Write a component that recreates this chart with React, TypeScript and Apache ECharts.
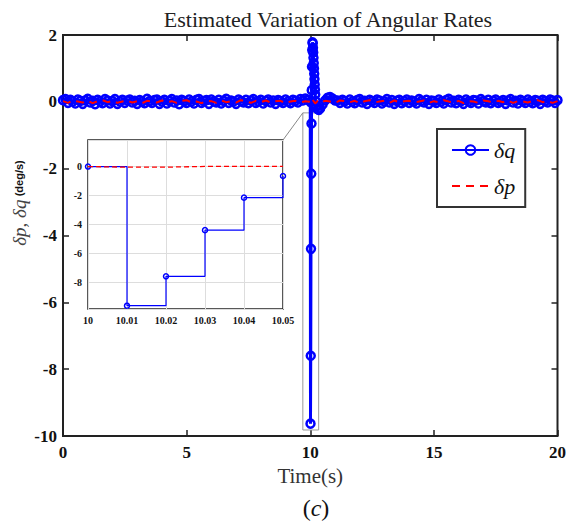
import React, { useEffect, useRef } from 'react';
import * as echarts from 'echarts';

// ---------- data ----------
const titleText = 'Estimated Variation of Angular Rates';
const xName = 'Time(s)';
const yNameSymbols = 'δp, δq';
const yNameUnit = '(deg/s)';
const legendNames = ['δq', 'δp'];
const mainXRange = [0, 20];
const mainYRange = [-10, 2];
const mainXInterval = 5;
const mainYInterval = 2;

// δq, noisy band before the event (t = 0 .. 9.9, step 0.1)
const qPreStart = 0;
const qStep = 0.1;
const qPre = [
  0.05, 0.08, -0.03, 0.06, 0.01, -0.05, 0.07, 0.03, -0.06, 0.04,
  0.09, -0.02, 0.03, -0.07, 0.06, 0.01, -0.04, 0.08, 0.04, -0.05,
  0.02, 0.08, -0.06, 0.01, 0.06, -0.03, 0.04, 0.07, -0.02, 0.03,
  -0.06, 0.05, 0.01, -0.04, 0.09, 0.02, -0.03, 0.05, 0.07, -0.06,
  0.01, 0.06, -0.05, 0.03, 0.08, -0.02, 0.04, -0.07, 0.06, 0.02,
  -0.03, 0.07, 0.01, -0.05, 0.06, 0.08, -0.03, 0.02, 0.05, -0.06,
  0.07, 0.01, -0.02, 0.06, -0.05, 0.03, 0.09, -0.03, 0.04, 0.01,
  -0.06, 0.07, 0.02, -0.02, 0.06, -0.04, 0.04, 0.08, -0.03, 0.01,
  0.06, -0.05, 0.03, 0.07, -0.02, 0.04, -0.06, 0.05, 0.02, -0.03,
  0.07, 0.01, -0.04, 0.06, 0.03, -0.02, 0.08, 0.04, 0.1, 0.06,
];
// δq around the event (time, value)
const qEventT = [
  10.0, 10.01, 10.02, 10.03, 10.04, 10.05, 10.06, 10.07, 10.08, 10.09,
  10.1, 10.11, 10.12, 10.13, 10.14, 10.15, 10.16, 10.17, 10.18, 10.19,
  10.2, 10.22, 10.25, 10.3, 10.35, 10.4, 10.5, 10.6, 10.7, 10.8, 10.9, 11.0,
];
const qEventV = [
  0.0, -9.63, -7.6, -4.4, -2.15, -0.65, 0.35, 1.05, 1.55, 1.78,
  1.75, 1.62, 1.48, 1.32, 1.16, 1.0, 0.84, 0.68, 0.52, 0.37,
  0.22, 0.02, -0.12, -0.22, -0.24, -0.2, -0.08, 0.04, 0.12, 0.14, 0.1, 0.04,
];
// δq after the event (t = 11.1 .. 20.0, step 0.1)
const qPostStart = 11.1;
const qPost = [
  0.04, -0.03, 0.06, 0.02, -0.05, 0.07, 0.01, -0.04, 0.05, 0.08,
  -0.02, 0.03, -0.06, 0.06, 0.02, -0.03, 0.07, 0.04, -0.05, 0.01,
  0.08, -0.02, 0.05, -0.06, 0.03, 0.06, -0.04, 0.02, 0.07, -0.03,
  0.04, 0.01, -0.05, 0.08, 0.03, -0.02, 0.06, -0.06, 0.04, 0.02,
  -0.03, 0.07, 0.01, -0.05, 0.05, 0.09, -0.02, 0.03, -0.04, 0.06,
  0.02, -0.06, 0.07, 0.01, -0.03, 0.05, 0.04, -0.05, 0.08, 0.02,
  -0.02, 0.06, -0.04, 0.03, 0.07, -0.03, 0.01, 0.05, -0.06, 0.04,
  0.08, -0.02, 0.03, -0.05, 0.06, 0.02, -0.03, 0.07, 0.01, -0.04,
  0.05, 0.03, -0.06, 0.06, 0.02, -0.02, 0.07, 0.04, -0.03, 0.05,
];

// δp (t = 0 .. 9.8, step 0.2)
const pPreStart = 0;
const pStep = 0.2;
const pPre = [
  0.02, -0.03, 0.04, 0.01, -0.02, 0.03, -0.04, 0.02, 0.05, -0.01,
  0.03, -0.03, 0.01, 0.04, -0.02, 0.02, -0.04, 0.03, 0.01, -0.02,
  0.04, -0.01, 0.02, -0.03, 0.03, 0.05, -0.02, 0.01, -0.04, 0.03,
  0.02, -0.03, 0.04, -0.01, 0.02, -0.02, 0.05, 0.01, -0.03, 0.03,
  -0.01, 0.04, -0.02, 0.02, 0.03, -0.04, 0.01, 0.03, -0.02, 0.02,
];
const pEventT = [10.0, 10.01, 10.02, 10.03, 10.04, 10.05, 10.1, 10.2, 10.3];
const pEventV = [0.0, -0.04, -0.04, 0.01, 0.01, 0.01, 0.06, -0.05, 0.03];
// δp (t = 10.4 .. 20.0, step 0.2)
const pPostStart = 10.4;
const pPost = [
  -0.02, 0.03, 0.01, -0.03, 0.04, 0.02, -0.01, 0.03, -0.04, 0.02,
  0.05, -0.02, 0.01, 0.03, -0.03, 0.04, -0.01, 0.02, 0.03, -0.02,
  0.01, 0.04, -0.03, 0.02, -0.01, 0.05, 0.01, -0.02, 0.03, -0.04,
  0.02, 0.01, -0.03, 0.04, 0.02, -0.02, 0.03, -0.01, 0.04, -0.03,
  0.02, 0.01, -0.02, 0.03, 0.05, -0.01, 0.02, -0.03, 0.02,
];

// inset (zoom on t = 10 .. 10.05)
const insetXRange = [10, 10.05];
const insetYRange = [-9.86, 1.84];
const insetXInterval = 0.01;
const insetQT = [10.0, 10.01, 10.02, 10.03, 10.04, 10.05];
const insetQV = [0.0, -9.63, -7.6, -4.4, -2.15, -0.65];
const insetPT = [10.0, 10.01, 10.02, 10.03, 10.04, 10.05];
const insetPV = [0.0, -0.04, -0.04, 0.01, 0.01, 0.01];

// zoom rectangle in the main axes
const zoomBoxX = [9.7, 10.34];
const zoomBoxY = [-9.82, -0.33];

// ---------- helpers ----------
const r2 = (v: number) => Math.round(v * 1000) / 1000;
const gridSeries = (start: number, step: number, vals: number[]) =>
  vals.map((v, i) => [r2(start + i * step), v]);
const pairSeries = (ts: number[], vs: number[]) => ts.map((t, i) => [t, vs[i]]);

const BLUE = '#0000ff';
const RED = '#ff0000';
const FRAME = '#222222';
const SERIF = 'Liberation Serif';
const SANS = 'Liberation Sans';

export default function App() {
  const ref = useRef<HTMLDivElement>(null);

  useEffect(() => {
    document.body.style.margin = '0';
    if (!ref.current) return;
    const chart = echarts.init(ref.current, undefined, { renderer: 'svg' });

    const qMain = [
      ...gridSeries(qPreStart, qStep, qPre),
      ...pairSeries(qEventT, qEventV),
      ...gridSeries(qPostStart, qStep, qPost),
    ];
    const pMain = [
      ...gridSeries(pPreStart, pStep, pPre),
      ...pairSeries(pEventT, pEventV),
      ...gridSeries(pPostStart, pStep, pPost),
    ];

    const mainTickLabel = {
      fontFamily: SERIF,
      fontWeight: 'bold' as const,
      fontSize: 17,
      color: '#111',
    };
    const insetTickLabel = {
      fontFamily: SERIF,
      fontWeight: 'bold' as const,
      fontSize: 10,
      color: '#111',
    };

    const option: any = {
      animation: false,
      backgroundColor: '#ffffff',
      title: {
        text: titleText,
        left: 323,
        top: 3,
        textAlign: 'center',
        textStyle: { fontFamily: SERIF, fontWeight: 'normal', fontSize: 22, color: '#222' },
      },
      legend: {
        data: [
          { name: legendNames[0] },
          { name: legendNames[1], itemStyle: { opacity: 0 } },
        ],
        orient: 'vertical',
        left: 437,
        top: 129,
        padding: [10, 10, 10, 14],
        itemWidth: 37,
        itemHeight: 12,
        itemGap: 14,
        borderColor: '#333',
        borderWidth: 2,
        backgroundColor: '#fff',
        textStyle: { fontFamily: SERIF, fontStyle: 'italic', fontSize: 22, color: '#111' },
      },
      grid: [
        {
          left: 63,
          top: 35,
          width: 497,
          height: 401,
          show: true,
          borderColor: FRAME,
          borderWidth: 2,
          backgroundColor: '#fff',
        },
        {
          left: 88,
          top: 140,
          width: 195,
          height: 169,
          show: true,
          borderColor: FRAME,
          borderWidth: 1.5,
          backgroundColor: '#fff',
          z: 5,
        },
      ],
      xAxis: [
        {
          gridIndex: 0,
          type: 'value',
          min: mainXRange[0],
          max: mainXRange[1],
          interval: mainXInterval,
          name: xName,
          nameLocation: 'middle',
          nameGap: 24,
          nameTextStyle: { fontFamily: SERIF, fontSize: 21, color: '#333' },
          axisLine: { show: false, onZero: false },
          axisTick: { inside: true, length: 6, lineStyle: { color: FRAME, width: 1.5 } },
          axisLabel: { ...mainTickLabel, margin: 8 },
          splitLine: { show: false },
        },
        {
          gridIndex: 0,
          type: 'value',
          position: 'top',
          min: mainXRange[0],
          max: mainXRange[1],
          interval: mainXInterval,
          axisLine: { show: false, onZero: false },
          axisTick: { inside: true, length: 6, lineStyle: { color: FRAME, width: 1.5 } },
          axisLabel: { show: false },
          splitLine: { show: false },
        },
        {
          gridIndex: 1,
          type: 'value',
          min: insetXRange[0],
          max: insetXRange[1],
          interval: insetXInterval,
          axisLine: { show: false, onZero: false },
          axisTick: { show: false },
          axisLabel: {
            ...insetTickLabel,
            margin: 6,
            formatter: (v: number) => String(Number(v.toFixed(2))),
          },
          splitLine: { show: true, lineStyle: { color: '#dddddd', width: 1 } },
          z: 6,
        },
      ],
      yAxis: [
        {
          gridIndex: 0,
          type: 'value',
          min: mainYRange[0],
          max: mainYRange[1],
          interval: mainYInterval,
          axisLine: { show: false, onZero: false },
          axisTick: { inside: true, length: 6, lineStyle: { color: FRAME, width: 1.5 } },
          axisLabel: { ...mainTickLabel, margin: 6 },
          splitLine: { show: false },
        },
        {
          gridIndex: 0,
          type: 'value',
          position: 'right',
          min: mainYRange[0],
          max: mainYRange[1],
          interval: mainYInterval,
          axisLine: { show: false, onZero: false },
          axisTick: { inside: true, length: 6, lineStyle: { color: FRAME, width: 1.5 } },
          axisLabel: { show: false },
          splitLine: { show: false },
        },
        {
          gridIndex: 1,
          type: 'value',
          min: insetYRange[0],
          max: insetYRange[1],
          splitNumber: 6,
          axisLine: { show: false, onZero: false },
          axisTick: { show: false },
          axisLabel: {
            ...insetTickLabel,
            margin: 6,
            showMinLabel: false,
            showMaxLabel: false,
            formatter: (v: number) => {
              const r = Math.round(v);
              return Math.abs(v - r) < 1e-6 && r % 2 === 0 ? String(r) : '';
            },
          },
          splitLine: { show: true, lineStyle: { color: '#dddddd', width: 1 } },
          z: 6,
        },
      ],
      series: [
        {
          name: legendNames[0],
          type: 'line',
          xAxisIndex: 0,
          yAxisIndex: 0,
          data: qMain,
          symbol: 'circle',
          symbolSize: 8,
          showAllSymbol: true,
          color: BLUE,
          itemStyle: { color: 'rgba(255,255,255,0)', borderColor: BLUE, borderWidth: 2.5 },
          lineStyle: { color: BLUE, width: 3 },
          z: 3,
          markArea: {
            silent: true,
            itemStyle: { color: 'rgba(0,0,0,0)', borderColor: '#999999', borderWidth: 1 },
            data: [[{ coord: [zoomBoxX[0], zoomBoxY[1]] }, { coord: [zoomBoxX[1], zoomBoxY[0]] }]],
          },
        },
        {
          name: legendNames[1],
          type: 'line',
          xAxisIndex: 0,
          yAxisIndex: 0,
          data: pMain,
          symbol: 'none',
          color: RED,
          lineStyle: { color: RED, width: 2, type: [8, 6] },
          z: 4,
        },
        {
          name: legendNames[0],
          type: 'line',
          xAxisIndex: 2,
          yAxisIndex: 2,
          data: pairSeries(insetQT, insetQV),
          step: 'end',
          symbol: 'circle',
          symbolSize: 5,
          color: BLUE,
          itemStyle: { color: 'rgba(255,255,255,0)', borderColor: BLUE, borderWidth: 1.5 },
          lineStyle: { color: BLUE, width: 1.2 },
          z: 7,
        },
        {
          name: legendNames[1],
          type: 'line',
          xAxisIndex: 2,
          yAxisIndex: 2,
          data: pairSeries(insetPT, insetPV),
          symbol: 'none',
          color: RED,
          lineStyle: { color: RED, width: 1.3, type: [5, 3] },
          z: 8,
        },
      ],
      graphic: [
        {
          id: 'yname',
          type: 'text',
          x: 19,
          y: 203,
          rotation: Math.PI / 2,
          style: {
            text: `{a|${yNameSymbols}} {b|${yNameUnit}}`,
            rich: {
              a: { fontFamily: SERIF, fontStyle: 'italic', fontSize: 19, fill: '#444', color: '#444' },
              b: { fontFamily: SANS, fontWeight: 'bold', fontSize: 11, fill: '#111', color: '#111' },
            },
            align: 'center',
            verticalAlign: 'middle',
            textAlign: 'center',
            textVerticalAlign: 'middle',
          },
        },
        {
          id: 'caption',
          type: 'text',
          x: 316,
          y: 508,
          style: {
            text: '{p|(}{c|c}{p|)}',
            rich: {
              p: { fontFamily: SERIF, fontSize: 24, fill: '#111', color: '#111' },
              c: { fontFamily: SERIF, fontStyle: 'italic', fontSize: 24, fill: '#111', color: '#111' },
            },
            align: 'center',
            verticalAlign: 'middle',
            textAlign: 'center',
            textVerticalAlign: 'middle',
          },
        },
      ],
    };

    chart.setOption(option);

    const a = chart.convertToPixel({ gridIndex: 1 } as any, [insetXRange[1], insetYRange[1]]) as number[];
    const b = chart.convertToPixel({ gridIndex: 0 } as any, [zoomBoxX[0], zoomBoxY[1]]) as number[];
    if (a && b) {
      chart.setOption({
        graphic: [
          {
            id: 'connector',
            type: 'line',
            shape: { x1: a[0], y1: a[1], x2: b[0], y2: b[1] },
            style: { stroke: '#888888', lineWidth: 1 },
            z: 10,
          },
        ],
      });
    }

    return () => chart.dispose();
  }, []);

  return <div ref={ref} style={{ width: 569, height: 523 }} />;
}
